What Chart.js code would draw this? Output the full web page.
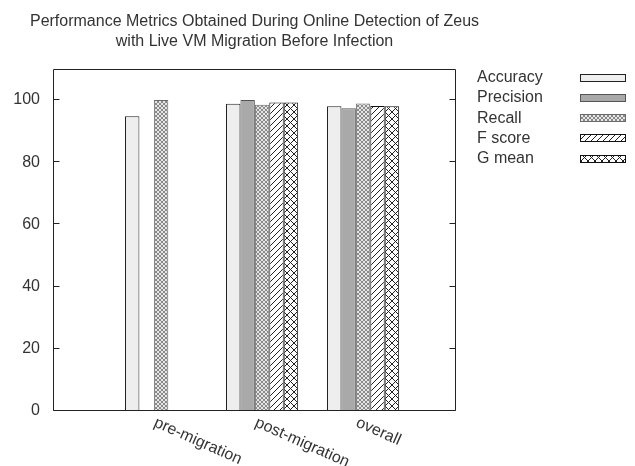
<!DOCTYPE html>
<html>
<head>
<meta charset="utf-8">
<script src="https://cdn.jsdelivr.net/npm/chart.js@4/dist/chart.umd.min.js"></script>
<style>
  html, body { margin: 0; padding: 0; background: #fff; }
  #wrap { width: 635px; height: 466px; }
</style>
</head>
<body>
<div id="wrap"><canvas id="c" width="635" height="466"></canvas></div>
<script>
// Detection metrics (%) per phase
const categories = ['pre-migration', 'post-migration', 'overall'];
const accuracy  = [94.8, 98.8, 98.0];
const precision = [null, 100.0, 97.4];
const recall    = [100.0, 98.5, 98.9];
const fScore    = [null, 99.2, 98.1];
const gMean     = [null, 99.2, 98.0];
const seriesNames = ['Accuracy', 'Precision', 'Recall', 'F score', 'G mean'];
const yTicks = [0, 20, 40, 60, 80, 100];
const titleLines = ['Performance Metrics Obtained During Online Detection of Zeus',
                    'with Live VM Migration Before Infection'];

const FONT = '16px "Liberation Sans", Arial, sans-serif';
const TEXT = '#333';

function tile(size, bg, draw) {
  const c = document.createElement('canvas');
  c.width = c.height = size;
  const g = c.getContext('2d');
  g.fillStyle = bg;
  g.fillRect(0, 0, size, size);
  draw(g, size);
  return g.createPattern(c, 'repeat');
}
// fine grey mesh
const meshFill = tile(4, '#e6e6e6', (g) => {
  g.fillStyle = '#8a8a8a';
  for (let i = 0; i < 4; i++) { g.fillRect(i, i, 1, 1); g.fillRect(3 - i, i, 1, 1); }
});
// forward diagonal hatch
const slashFill = tile(6, '#ffffff', (g, s) => {
  g.strokeStyle = '#222'; g.lineWidth = 1;
  g.beginPath();
  g.moveTo(-1, s + 1); g.lineTo(s + 1, -1);
  g.moveTo(-1, 1); g.lineTo(1, -1);
  g.moveTo(s - 1, s + 1); g.lineTo(s + 1, s - 1);
  g.stroke();
});
// cross hatch
const crossFill = tile(7, '#ffffff', (g, s) => {
  g.strokeStyle = '#222'; g.lineWidth = 1;
  g.beginPath();
  g.moveTo(0, 0); g.lineTo(s, s);
  g.moveTo(0, s); g.lineTo(s, 0);
  g.stroke();
});

const fills   = ['#eeeeee', '#a9a9a9', meshFill, slashFill, crossFill];
const borders = ['#222222', '#555555', '#6a6a6a', '#111111', '#111111'];
const values  = [accuracy, precision, recall, fScore, gMean];

const datasets = seriesNames.map((name, k) => ({
  label: name,
  data: values[k].map((v, i) => ({ x: i, y: v })),
  backgroundColor: fills[k],
  borderColor: borders[k],
  borderWidth: 1,
  borderSkipped: false,
  categoryPercentage: 5 / 7,
  barPercentage: 1.0
}));

// frame, inward y tick marks (mirrored), rotated x labels, title and key
const decor = {
  id: 'decor',
  afterDatasetsDraw(chart) {
    const { ctx, chartArea: a, scales } = chart;
    const L = Math.round(a.left) + 0.5, R = Math.round(a.right) - 0.5;
    const T = Math.round(a.top) + 0.5, B = Math.round(a.bottom) - 0.5;
    ctx.save();
    ctx.strokeStyle = '#222';
    ctx.lineWidth = 1;
    ctx.beginPath();
    ctx.rect(L, T, R - L, B - T);
    yTicks.forEach(v => {
      const y = Math.round(scales.y.getPixelForValue(v)) - 0.5;
      ctx.moveTo(L, y); ctx.lineTo(L + 6, y);
      ctx.moveTo(R, y); ctx.lineTo(R - 6, y);
    });
    ctx.stroke();

    ctx.fillStyle = TEXT;
    ctx.font = FONT;
    // category labels
    const ang = 24 * Math.PI / 180;
    categories.forEach((name, i) => {
      const x = scales.x.getPixelForValue(i) - 8;
      ctx.save();
      ctx.translate(x, 426);
      ctx.rotate(ang);
      ctx.textAlign = 'left';
      ctx.textBaseline = 'alphabetic';
      ctx.fillText(name, 0, 0);
      ctx.restore();
    });

    // title
    ctx.textAlign = 'center';
    ctx.textBaseline = 'alphabetic';
    const cx = (a.left + a.right) / 2;
    titleLines.forEach((t, i) => ctx.fillText(t, cx, 26 + i * 20));

    // key
    ctx.textAlign = 'left';
    ctx.textBaseline = 'middle';
    chart.data.datasets.forEach((ds, k) => {
      const yc = 77.5 + k * 20.3;
      ctx.fillStyle = TEXT;
      ctx.fillText(ds.label, 477, yc);
      const bx = 580, bw = 46, bh = 8, by = Math.round(yc - bh / 2);
      ctx.fillStyle = ds.backgroundColor;
      ctx.fillRect(bx, by, bw, bh);
      ctx.strokeStyle = ds.borderColor;
      ctx.strokeRect(bx + 0.5, by + 0.5, bw - 1, bh - 1);
    });
    ctx.restore();
  }
};

new Chart(document.getElementById('c'), {
  type: 'bar',
  data: { datasets },
  options: {
    responsive: false,
    animation: false,
    devicePixelRatio: 1,
    layout: { padding: { left: 0, top: 69, right: 179, bottom: 55 } },
    plugins: { legend: { display: false }, title: { display: false }, tooltip: { enabled: false } },
    scales: {
      x: {
        type: 'linear',
        offset: false,
        min: -1.07,
        max: 2.92,
        grid: { display: false },
        border: { display: false },
        ticks: { display: false },
        afterBuildTicks(scale) { scale.ticks = categories.map((_, i) => ({ value: i })); },
        afterFit(scale) { scale.height = 0; }
      },
      y: {
        min: 0,
        max: 110,
        grid: { display: false },
        border: { display: false },
        ticks: { color: TEXT, font: { family: '"Liberation Sans", Arial, sans-serif', size: 16 }, padding: 5 },
        afterBuildTicks(scale) { scale.ticks = yTicks.map(v => ({ value: v })); },
        afterFit(scale) { scale.width = 53; }
      }
    }
  },
  plugins: [decor]
});
</script>
</body>
</html>
